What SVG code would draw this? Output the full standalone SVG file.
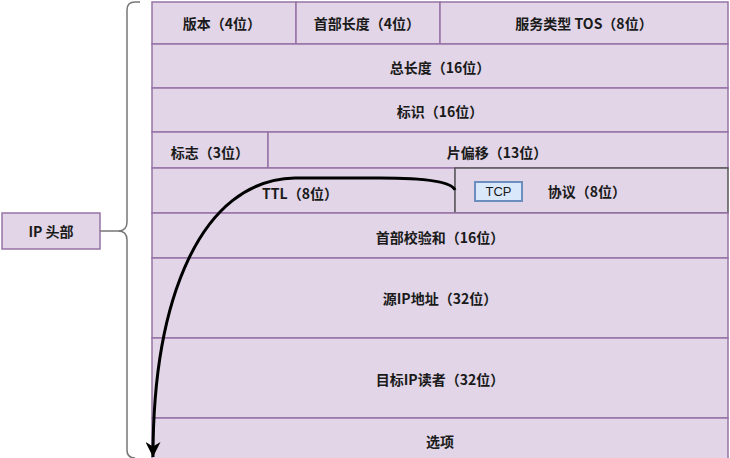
<svg xmlns="http://www.w3.org/2000/svg" width="730" height="458" viewBox="0 0 730 458">
<style>
.c{fill:#e1d5e7;stroke:#9673a6;stroke-width:1.5}
.t{font-family:"Noto Sans CJK SC","Liberation Sans",sans-serif;font-size:14px;font-weight:bold;fill:#1a1a1a;text-anchor:middle;dominant-baseline:central}
</style>
<defs>
<marker id="ah" viewBox="0 0 10 10" refX="10" refY="5" markerWidth="5" markerHeight="5" orient="auto" markerUnits="strokeWidth">
<path d="M0,0 L10,5 L0,10 L3,5 Z" fill="#000"/>
</marker>
</defs>
<rect width="730" height="458" fill="#fff"/>
<g id="ip-header"><rect class="c" x="2" y="213" width="98" height="36"/><text class="t" x="51" y="231">IP 头部</text></g>
<g id="version"><rect class="c" x="152" y="2" width="144" height="42"/><text class="t" x="222" y="23">版本（4位）</text></g>
<g id="ihl"><rect class="c" x="296" y="2" width="144" height="42"/><text class="t" x="367" y="23">首部长度（4位）</text></g>
<g id="tos"><rect class="c" x="440" y="2" width="288" height="42"/><text class="t" x="584" y="23">服务类型 TOS（8位）</text></g>
<g id="total-length"><rect class="c" x="152" y="44" width="576" height="44"/><text class="t" x="440" y="67">总长度（16位）</text></g>
<g id="identification"><rect class="c" x="152" y="88" width="576" height="44"/><text class="t" x="440" y="111">标识（16位）</text></g>
<g id="flags"><rect class="c" x="152" y="132" width="116" height="36"/><text class="t" x="210" y="152">标志（3位）</text></g>
<g id="fragment-offset"><rect class="c" x="268" y="132" width="460" height="36"/><text class="t" x="497" y="152">片偏移（13位）</text></g>
<g id="ttl"><rect class="c" x="152" y="168" width="303" height="45"/><text class="t" x="300" y="193">TTL（8位）</text></g>
<g id="protocol"><rect class="c" x="455" y="168" width="273" height="45" style="stroke:#555"/><text class="t" x="587" y="191">协议（8位）</text></g>
<g id="tcp"><rect x="475" y="182" width="47" height="19" fill="#dae8fc" stroke="#6c8ebf" stroke-width="2"/><text x="498.5" y="191.5" style="font-family:'Liberation Sans',Arial,sans-serif;font-size:13px;fill:#1a1a1a;text-anchor:middle;dominant-baseline:central">TCP</text></g>
<g id="checksum"><rect class="c" x="152" y="213" width="576" height="45"/><text class="t" x="440" y="237">首部校验和（16位）</text></g>
<g id="src-ip"><rect class="c" x="152" y="258" width="576" height="80"/><text class="t" x="440" y="298">源IP地址（32位）</text></g>
<g id="dst-ip"><rect class="c" x="152" y="338" width="576" height="80"/><text class="t" x="440" y="379">目标IP读者（32位）</text></g>
<g id="options"><rect class="c" x="152" y="418" width="576" height="50"/><text class="t" x="440" y="441">选项</text></g>
<g id="connectors" fill="none">
<path d="M100,231 L118,231 M140,2 L135,2 Q127,2 127,10 L127,222 Q127,231 118,231 Q127,231 127,240 L127,450 Q127,458 135,458" stroke="#777" stroke-width="1.5"/>
<path d="M455,190 Q450,178 380,178 L295,178 C200,180 153,300 153,457" stroke="#000" stroke-width="3" marker-end="url(#ah)"/>
</g>
</svg>
